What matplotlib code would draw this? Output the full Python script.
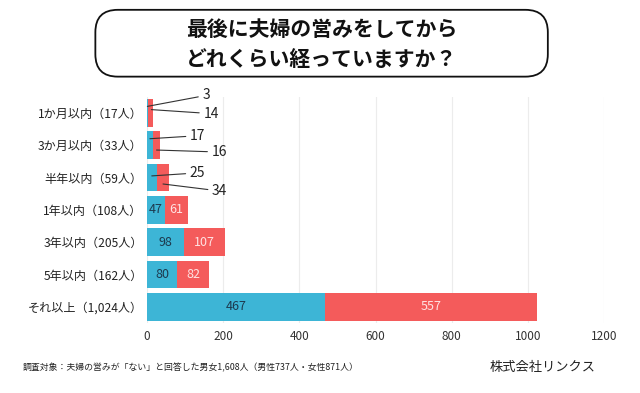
import matplotlib
matplotlib.use('Agg')
import matplotlib.pyplot as plt
from matplotlib.patches import FancyBboxPatch

plt.rcParams['font.family'] = ['Noto Sans CJK JP', 'DejaVu Sans']

# data
categories = ['1か月以内（17人）', '3か月以内（33人）', '半年以内（59人）', '1年以内（108人）',
              '3年以内（205人）', '5年以内（162人）', 'それ以上（1,024人）']
male = [3, 17, 25, 47, 98, 80, 467]
female = [14, 16, 34, 61, 107, 82, 557]
xticks = [0, 200, 400, 600, 800, 1000, 1200]

BLUE = '#3db5d6'
RED = '#f45b5b'

fig = plt.figure(figsize=(6.4, 3.93), dpi=100)
ax = fig.add_axes([0.2297, 0.178, 0.7143, 0.576])

y = list(range(len(categories)))
ax.barh(y, male, color=BLUE, height=0.86)
ax.barh(y, female, left=male, color=RED, height=0.86)

# inside labels for bigger rows
for i in range(3, len(categories)):
    ax.text(male[i] / 2, i, str(male[i]), ha='center', va='center',
            fontsize=9, color='#1d3a4f')
    ax.text(male[i] + female[i] / 2, i, str(female[i]), ha='center', va='center',
            fontsize=9, color='#ffe3e3')

# leader-line labels for the small rows
callouts = [
    # value, x data, y data, dx px, dy px
    (male[0], 1, 0 - 0.2, 55, 11),
    (female[0], male[0] + female[0] * 0.6, 0 - 0.1, 52, -4),
    (male[1], male[1] * 0.45, 1 - 0.2, 40, 3),
    (female[1], male[1] + female[1] * 0.5, 1 + 0.15, 55, -2),
    (male[2], male[2] * 0.5, 2 - 0.05, 38, 3),
    (female[2], male[2] + female[2] * 0.5, 2 + 0.2, 49, -7),
]
for val, xd, yd, dx, dy in callouts:
    ax.annotate(str(val), xy=(xd, yd), xytext=(dx, dy), textcoords='offset pixels',
                ha='left', va='center', fontsize=10, color='#222222',
                arrowprops=dict(arrowstyle='-', color='#333333', lw=0.8,
                                shrinkA=1, shrinkB=0))

ax.set_xlim(0, 1200)
ax.set_ylim(len(categories) - 0.5, -0.5)
ax.set_xticks(xticks)
ax.set_xticklabels([str(t) for t in xticks], fontsize=8.5, color='#333333')
ax.set_yticks(y)
ax.set_yticklabels(categories, fontsize=8.7, color='#222222')
ax.tick_params(length=0, pad=3)
ax.tick_params(axis='x', pad=5)
ax.grid(axis='x', color='#ececec', lw=0.8)
ax.set_axisbelow(True)
for s in ax.spines.values():
    s.set_visible(False)

# title box
box = FancyBboxPatch((0.149, 0.805), 0.707, 0.17, transform=fig.transFigure,
                     boxstyle='round,pad=0.0,rounding_size=0.035',
                     facecolor='white', edgecolor='#111111', lw=1.3,
                     mutation_aspect=640 / 393)
fig.patches.append(box)
fig.text(0.502, 0.887, '最後に夫婦の営みをしてから\nどれくらい経っていますか？',
         ha='center', va='center', fontsize=15, fontweight='bold',
         linespacing=1.5, color='#111111')

fig.text(0.035, 0.065, '調査対象：夫婦の営みが「ない」と回答した男女1,608人（男性737人・女性871人）',
         ha='left', va='center', fontsize=6.4, color='#222222')
fig.text(0.765, 0.065, '株式会社リンクス', ha='left', va='center',
         fontsize=9.5, color='#222222')

fig.savefig('out.png', dpi=100)
